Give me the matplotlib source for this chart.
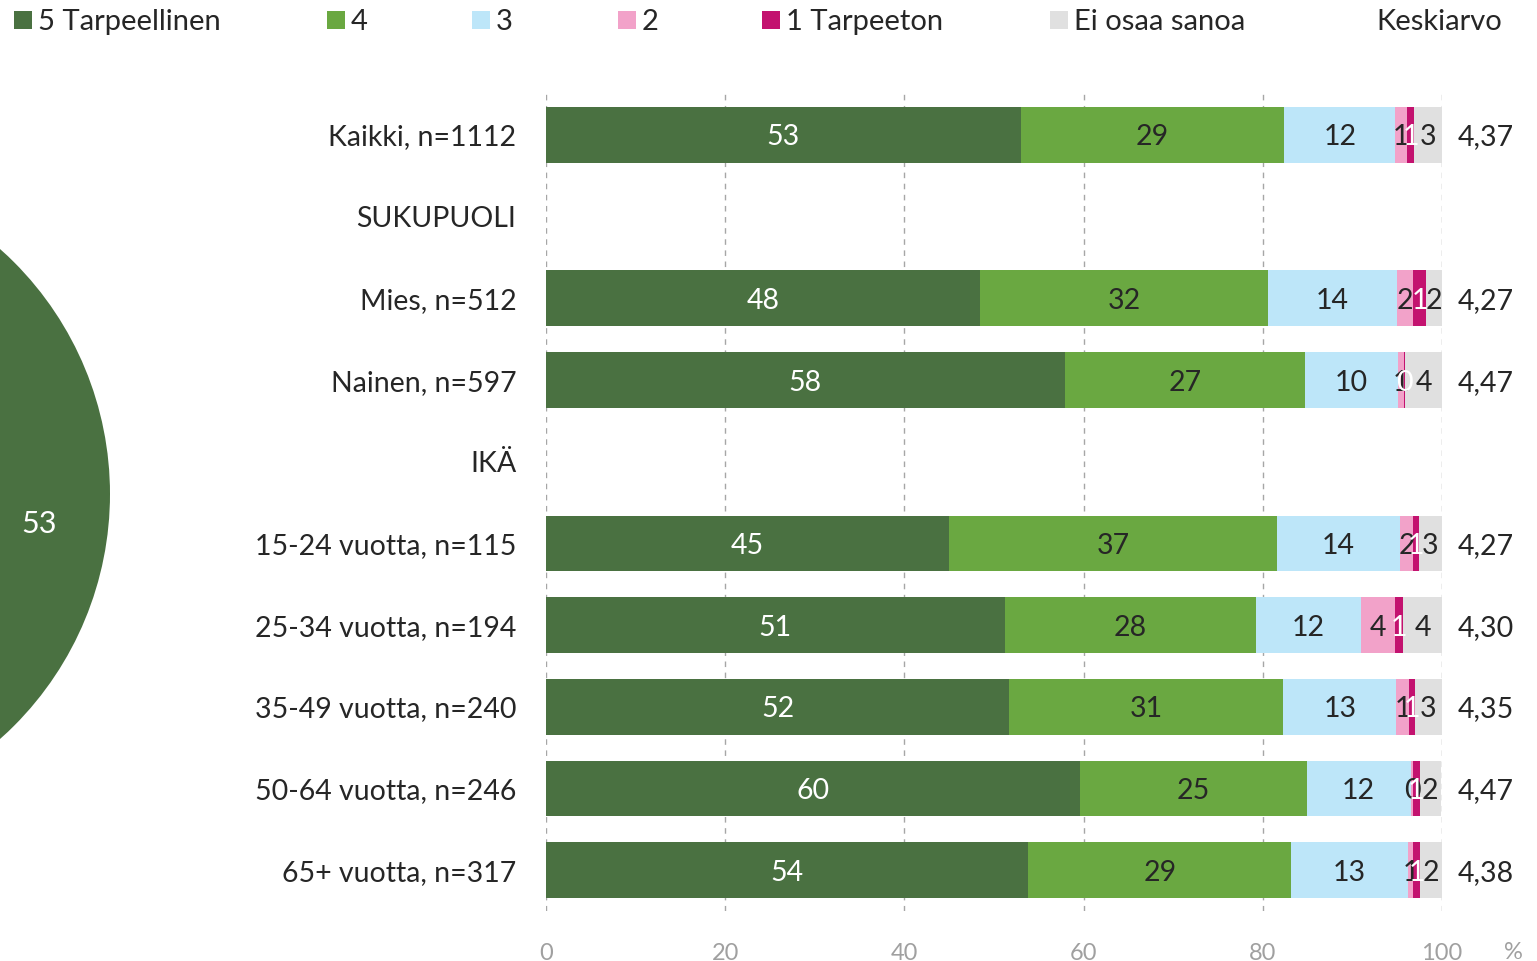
import numpy as np
import matplotlib
matplotlib.use("Agg")
import matplotlib.pyplot as plt
from matplotlib.patches import Circle, Rectangle

plt.rcParams['font.family'] = ['Lato', 'DejaVu Sans']

# Data.
rows = ["Kaikki, n=1112", "SUKUPUOLI", "Mies, n=512", "Nainen, n=597", "IKÄ",
        "15-24 vuotta, n=115", "25-34 vuotta, n=194", "35-49 vuotta, n=240",
        "50-64 vuotta, n=246", "65+ vuotta, n=317"]
series = ["5 Tarpeellinen", "4", "3", "2", "1 Tarpeeton", "Ei osaa sanoa"]
v5 = [53.0, None, 48.4, 57.9, None, 45.0, 51.2, 51.7, 59.6, 53.8]
v4 = [29.4, None, 32.2, 26.8, None, 36.6, 28.0, 30.6, 25.3, 29.4]
v3 = [12.4, None, 14.4, 10.4, None, 13.7, 11.8, 12.6, 11.6, 13.0]
v2 = [1.3, None, 1.8, 0.7, None, 1.5, 3.8, 1.4, 0.3, 0.6]
v1 = [0.8, None, 1.4, 0.1, None, 0.6, 0.9, 0.7, 0.7, 0.8]
eos = [3.1, None, 1.8, 4.1, None, 2.6, 4.3, 3.0, 2.4, 2.4]
keskiarvo = ["4,37", "", "4,27", "4,47", "", "4,27", "4,30", "4,35", "4,47", "4,38"]

colors = ["#4a7141", "#6aa841", "#bde6f9", "#f2a2c9", "#c3126f", "#e0e0e0"]
text_colors = ["white", "#262626", "#262626", "#262626", "white", "#262626"]

W, H = 1537, 962
fig = plt.figure(figsize=(W / 100, H / 100), dpi=100)

# background overlay in pixel coordinates (legend, pie remnant)
bg = fig.add_axes([0, 0, 1, 1])
bg.set_xlim(0, W)
bg.set_ylim(H, 0)
bg.axis("off")
bg.add_patch(Circle((-218, 495), 328, color=colors[0], lw=0))
bg.text(39, 524, f"{v5[0]:.0f}", color="white", fontsize=22, ha="center", va="center")

leg_x = [14, 327, 472, 618, 762, 1050]
for x, lab, c in zip(leg_x, series, colors):
    bg.add_patch(Rectangle((x, 12), 18, 18, color=c, lw=0))
    bg.text(x + 24, 22, lab, fontsize=21, color="#262626", va="center", ha="left")
bg.text(1502, 22, "Keskiarvo", fontsize=21, color="#262626", va="center", ha="right")

ax = fig.add_axes([546 / W, 1 - 912 / H, 896 / W, (912 - 95) / H])
ax.set_xlim(0, 100)
ax.set_ylim(9.5, -0.5)

data = [v5, v4, v3, v2, v1, eos]
for i in range(len(rows)):
    left = 0
    if v5[i] is None:
        continue
    for k, vals in enumerate(data):
        v = vals[i]
        ax.barh(i, v, left=left, height=0.68, color=colors[k], lw=0, zorder=3)
        ax.text(left + v / 2, i + 0.02, f"{v:.0f}", ha="center", va="center",
                fontsize=20.5, color=text_colors[k], zorder=4)
        left += v

for i, r in enumerate(rows):
    ax.text(-3.3, i + 0.02, r, ha="right", va="center", fontsize=20.5, color="#262626")
    ax.text(104.9, i + 0.02, keskiarvo[i], ha="center", va="center", fontsize=20.5,
            color="#262626", clip_on=False)

ax.set_xticks(np.arange(0, 101, 20))
ax.set_yticks([])
ax.grid(axis="x", color="#a6a6a6", ls=(0, (4, 4)), lw=1, zorder=0)
for s in ax.spines.values():
    s.set_visible(False)
ax.tick_params(axis="x", length=0, pad=22, labelsize=17, labelcolor="#a0a0a0")
ax.text(108, -0.05, "%", transform=ax.get_xaxis_transform(), fontsize=17,
        color="#a0a0a0", ha="center", va="center")
ax.set_axisbelow(True)

fig.savefig("out.png", dpi=100)
